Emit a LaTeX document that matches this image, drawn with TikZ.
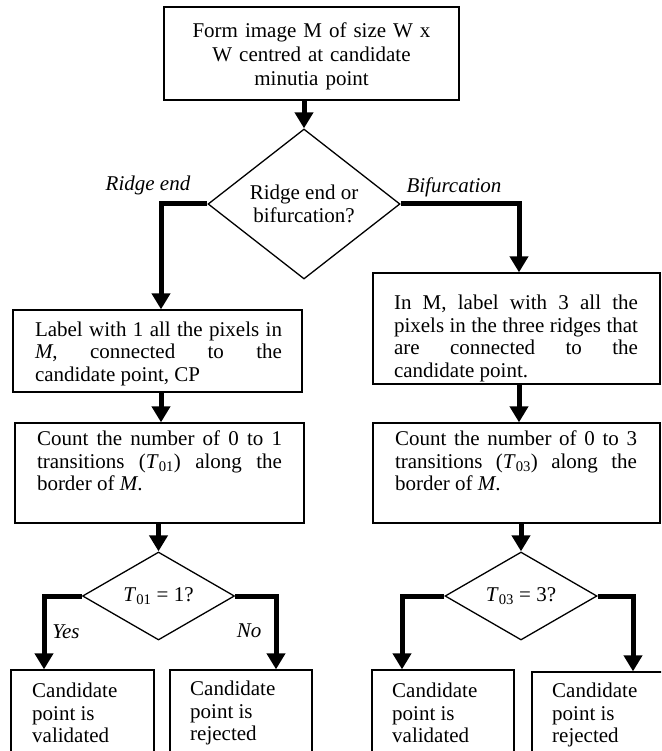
\documentclass[tikz,border=0pt]{standalone}
\usepackage{fontspec}
\setmainfont{Liberation Serif}
\usetikzlibrary{arrows.meta,shapes.geometric,calc}
\begin{document}
\begin{tikzpicture}[x=1pt,y=-1pt,
  box/.style={draw, line width=1.3pt, inner sep=0pt},
  txt/.style={inner sep=0pt, font=\fontsize{21}{22.5}\selectfont},
  dia/.style={draw, diamond, line width=1.3pt, inner sep=0pt, align=center, font=\fontsize{21}{23.5}\selectfont},
  flow/.style={line width=5pt, line join=miter, -{Triangle[width=18pt,length=16pt]}},
  lab/.style={inner sep=0pt, font=\fontsize{21}{22.5}\selectfont\itshape}]
\useasboundingbox (0,0) rectangle (661,751);
\clip (0,0) rectangle (661,751);
\fill[white] (0,0) rectangle (661,751);

% column coordinates for connectors
\coordinate (xA) at (161,0);
\coordinate (xB) at (519,0);
\coordinate (xC) at (44,0);
\coordinate (xD) at (276,0);
\coordinate (xE) at (402,0);
\coordinate (xF) at (633,0);

% boxes
\node[box, minimum width=295pt, minimum height=93pt] (b1) at (311.5,53.5) {};
\node[txt, text width=262pt, align=center, font=\fontsize{21}{24}\selectfont] (t1) at ([yshift=-2.5pt]b1.center)
  {Form image M of size W x\\W centred at candidate\\minutia point};

\node[dia, minimum width=192pt, minimum height=150pt] (d1) at (304,204) {Ridge end or\\bifurcation?};

\node[box, minimum width=289pt, minimum height=82pt] (b2) at (157.5,351) {};
\node[txt, text width=247pt, align=justify] (t2) at (158.5,353.5)
  {Label with 1 all the pixels in\linebreak \textit{M}, connected to the\linebreak candidate point, CP};

\node[box, minimum width=287pt, minimum height=111pt] (b3) at (516.5,328.5) {};
\node[txt, text width=244pt, align=justify] (t3) at (516,338.5)
  {In M, label with 3 all the\linebreak pixels in the three ridges that\linebreak are connected to the\linebreak candidate point.};

\node[box, minimum width=289pt, minimum height=100pt] (b4) at (159.5,473) {};
\node[txt, text width=245pt, align=justify] (t4) at (159.5,461)
  {Count the number of 0 to 1\linebreak transitions (\textit{T}\textsubscript{01}) along the\linebreak border of \textit{M}.};

\node[box, minimum width=287pt, minimum height=100pt] (b5) at (516.5,473) {};
\node[txt, text width=242pt, align=justify] (t5) at (516,461)
  {Count the number of 0 to 3\linebreak transitions (\textit{T}\textsubscript{03}) along the\linebreak border of \textit{M}.};

\node[dia, minimum width=152pt, minimum height=88pt] (d3) at (158.5,596) {\textit{T}\textsubscript{01} = 1?};
\node[dia, minimum width=152pt, minimum height=88pt] (d4) at (521,596) {\textit{T}\textsubscript{03} = 3?};

\node[box, minimum width=143pt, minimum height=120pt] (b6) at (82.5,730) {};
\node[box, minimum width=142pt, minimum height=120pt] (b7) at (241,730) {};
\node[box, minimum width=142pt, minimum height=120pt] (b8) at (443,730) {};
\node[box, minimum width=158pt, minimum height=118pt] (b9) at (611,731) {};
\node[txt, anchor=west, align=left] (t6) at (32,713) {Candidate\\point is\\validated};
\node[txt, anchor=west, align=left] (t7) at (190,713) {Candidate\\point is\\rejected};
\node[txt, anchor=west, align=left] (t8) at (392,713) {Candidate\\point is\\validated};
\node[txt, anchor=west, align=left] (t9) at (552,715) {Candidate\\point is\\rejected};

% labels
\node[lab] (lRE) at (148,185) {Ridge end};
\node[lab] (lBI) at (454,187) {Bifurcation};
\node[lab] (lY) at (66,632) {Yes};
\node[lab] (lN) at (249,631) {No};

% connectors
\draw[flow] (d1.north |- b1.south) -- (d1.north);
\draw[flow] (d1.west) -| (b2.north -| xA);
\draw[flow] (d1.east) -| (b3.north -| xB);
\draw[flow] (b2.south -| xA) -- (b4.north -| xA);
\draw[flow] (b3.south -| xB) -- (b5.north -| xB);
\draw[flow] (b4.south -| d3.north) -- (d3.north);
\draw[flow] (b5.south -| d4.north) -- (d4.north);
\draw[flow] (d3.west) -| (b6.north -| xC);
\draw[flow] (d3.east) -| (b7.north -| xD);
\draw[flow] (d4.west) -| (b8.north -| xE);
\draw[flow] (d4.east) -| (b9.north -| xF);
\end{tikzpicture}
\end{document}
